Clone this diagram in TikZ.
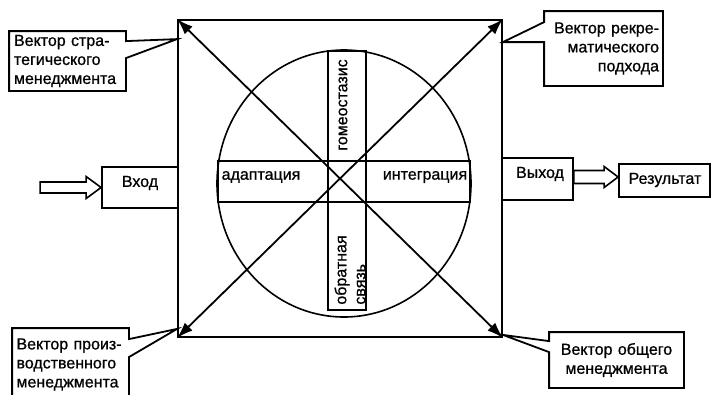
\documentclass[tikz,border=0pt]{standalone}
\usepackage{fontspec}
\setmainfont{Liberation Sans}
\newfontfamily\diafont{Liberation Sans}[FakeBold=0.8]
\usetikzlibrary{calc,arrows.meta,shapes.geometric}
\begin{document}
\begin{tikzpicture}[x=1pt,y=-1pt,line width=1.8pt,
  txt/.style={font=\diafont\fontsize{16}{19}\selectfont,inner sep=0pt},
  frame/.style={draw,inner sep=0pt},
  dblarrow/.style={{Latex[length=16pt,width=11pt]}-{Latex[length=16pt,width=11pt]}},
  hollow/.style={draw,fill=white,line width=1.6pt}]
\useasboundingbox (0,0) rectangle (712,394);
\clip (0,0) rectangle (712,394);
\fill[white] (0,0) rectangle (712,394);

% main square, circle and cross bands
\node[frame,minimum width=324pt,minimum height=317pt] (sq) at (340,178.5) {};
\node[frame,ellipse,minimum width=254pt,minimum height=267pt,line width=1.6pt] (circ) at (344,183.5) {};
\node[frame,minimum width=252pt,minimum height=41pt,line width=1.6pt] (hb) at (344,181.5) {};
\node[frame,minimum width=38pt,minimum height=259pt,line width=1.6pt] (vb) at (347,180.5) {};

\node[txt] (adapt) at (261,177) {адаптация};
\node[txt] (integ) at (425,177) {интеграция};
\node[txt,rotate=90] (gomeo) at (343,105) {гомеостазис};
\node[txt,rotate=90,align=left] (obr) at (350,270) {обратная\\связь};

% diagonals
\draw[dblarrow] (sq.north west) -- (sq.south east);
\draw[dblarrow] (sq.north east) -- (sq.south west);

% callout: strategic
\node[txt,align=left,text width=107pt,minimum height=58pt,inner xsep=4pt] (b1) at (67.5,61) {Вектор стра-\\тегического\\менеджмента};
\coordinate (t1) at ($(sq.north west)+(0,20)$);
\draw (b1.north west) -- (b1.north east) -- ($(b1.north east)+(0,10)$) -- (t1)
  -- ($(b1.north east)+(0,27)$) -- (b1.south east) -- (b1.south west) -- cycle;

% callout: recreational
\node[txt,align=right,text width=111pt,minimum height=73pt,inner xsep=3pt] (b2) at (603.5,48.5) {Вектор рекре-\\матического\\подхода};
\coordinate (t2) at ($(sq.north east)+(0,23)$);
\draw (b2.north west) -- (b2.north east) -- (b2.south east) -- (b2.south west)
  -- ($(b2.north west)+(0,31)$) -- (t2) -- ($(b2.north west)+(0,11)$) -- cycle;

% callout: production
\node[txt,align=left,text width=108pt,minimum height=71pt,inner xsep=3.5pt] (b3) at (70.5,364.5) {Вектор произ-\\водственного\\менеджмента};
\coordinate (t3) at ($(sq.south west)+(0,-9)$);
\draw (b3.north west) -- (b3.north east) -- ($(b3.north east)+(0,11)$) -- (t3)
  -- ($(b3.north east)+(0,29)$) -- (b3.south east) -- (b3.south west) -- cycle;

% callout: general
\node[txt,align=center,text width=127pt,minimum height=54pt,inner xsep=3pt] (b4) at (616.5,360) {Вектор общего\\менеджмента};
\coordinate (t4) at ($(sq.south east)+(0,-3)$);
\draw (b4.north west) -- (b4.north east) -- (b4.south east) -- (b4.south west)
  -- ($(b4.north west)+(0,20)$) -- (t4) -- ($(b4.north west)+(0,9)$) -- cycle;

% input / output
\node[frame,minimum width=76pt,minimum height=41pt] (in) at (140,187.5) {};
\node[txt] (inlab) at (140,183) {Вход};
\node[frame,minimum width=71pt,minimum height=42pt] (out) at (537.5,179) {};
\node[txt] (outlab) at (540,174) {Выход};
\node[frame,minimum width=91pt,minimum height=33pt] (res) at (664.5,180.5) {};
\node[txt] (reslab) at (665,180) {Результат};

\coordinate (inS) at ($(in.west)+(-61,0)$);
\path[hollow] ($(inS)+(0,-5.5)$) -- ($(in.west)+(-15,-5.5)$) -- ($(in.west)+(-15,-11)$)
  -- (in.west) -- ($(in.west)+(-15,11)$) -- ($(in.west)+(-15,5.5)$) -- ($(inS)+(0,5.5)$) -- cycle;

\coordinate (tipR) at ($(res.west)+(0,-3.5)$);
\coordinate (outS) at (out.east |- tipR);
\path[hollow] ($(outS)+(0,-6.5)$) -- ($(tipR)+(-14,-6.5)$) -- ($(tipR)+(-14,-10.5)$)
  -- (tipR) -- ($(tipR)+(-14,10.5)$) -- ($(tipR)+(-14,6.5)$) -- ($(outS)+(0,6.5)$) -- cycle;
\end{tikzpicture}
\end{document}
